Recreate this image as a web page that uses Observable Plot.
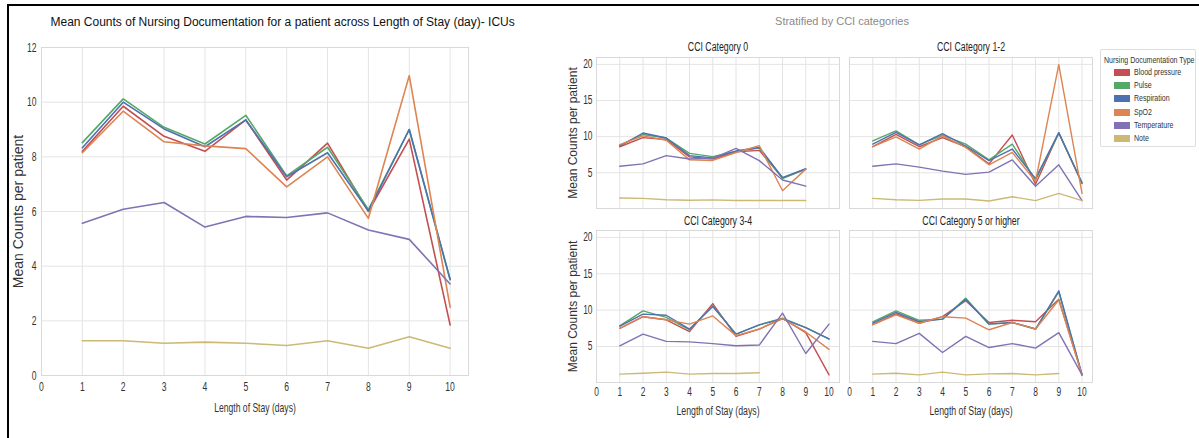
<!DOCTYPE html>
<html><head><meta charset="utf-8">
<script src="https://cdn.jsdelivr.net/npm/d3@7"></script>
<script src="https://cdn.jsdelivr.net/npm/@observablehq/plot@0.6"></script>
<style>
body{margin:0;background:#fff;}
#wrap{position:relative;width:1199px;height:438px;overflow:hidden;background:#fff;font-family:"Liberation Sans",Arial,sans-serif;}
#border{position:absolute;left:7px;top:4px;width:1300px;height:500px;border-left:2px solid #000;border-top:2px solid #000;}
#legend{position:absolute;left:1100px;top:49px;width:94px;height:96px;border:1px solid #dedede;border-radius:2px;background:#fff;color:#333;}
#legend .lt{position:absolute;left:3px;top:4px;font-size:9.5px;white-space:nowrap;transform:scaleX(0.74);transform-origin:0 50%;}
#legend .row{position:absolute;left:13px;height:10px;white-space:nowrap;}
#legend .sw{position:absolute;left:0;top:2px;width:16px;height:7px;}
#legend .lab{position:absolute;left:20px;top:-1px;font-size:9.5px;line-height:11px;transform:scaleX(0.74);transform-origin:0 50%;}
#strat{position:absolute;left:700px;top:15px;width:284px;text-align:center;font-size:11px;color:#8a8a8a;}
</style></head><body><div id="wrap"><div id="border"></div></div>
<script>
const days = [1,2,3,4,5,6,7,8,9,10];
const seriesNames = ["Blood pressure","Pulse","Respiration","SpO2","Temperature","Note"];
const seriesColors = ["#C44E52","#55A868","#4C72B0","#DD8452","#8172B3","#CCB974"];
const xTicks = [0,1,2,3,4,5,6,7,8,9,10];
const yTicksMain = [0,2,4,6,8,10,12];
const yTicksFacet = [5,10,15,20];

const mainTitle = "Mean Counts of Nursing Documentation for a patient across Length of Stay (day)- ICUs";
const stratTitle = "Stratified by CCI categories";
const xLabel = "Length of Stay (days)";
const yLabel = "Mean Counts per patient";
const legendTitle = "Nursing Documentation Type";
const facetTitles = ["CCI Category 0","CCI Category 1-2","CCI Category 3-4","CCI Category 5 or higher"];

// All ICU patients
const bpAll    = [8.2, 9.85, 8.75, 8.2, 9.35, 7.15, 8.5, 6.0, 8.65, 1.85];
const pulseAll = [8.52, 10.12, 9.08, 8.47, 9.52, 7.3, 8.35, 6.07, 9.0, 3.5];
const respAll  = [8.33, 10.0, 9.02, 8.37, 9.35, 7.27, 8.15, 6.02, 9.0, 3.52];
const spo2All  = [8.15, 9.67, 8.55, 8.4, 8.3, 6.9, 8.0, 5.75, 10.97, 2.5];
const tempAll  = [5.57, 6.08, 6.33, 5.43, 5.82, 5.78, 5.95, 5.32, 4.98, 3.35];
const noteAll  = [1.27, 1.27, 1.18, 1.22, 1.18, 1.1, 1.27, 1.0, 1.42, 1.0];

// CCI 0 (days 1-9)
const bp0    = [8.6, 9.86, 9.6, 7.2, 6.9, 7.9, 8.1, 4.3, 5.5];
const pulse0 = [8.8, 10.3, 9.8, 7.68, 7.23, 8.0, 8.4, 4.2, 5.5];
const resp0  = [8.7, 10.5, 9.8, 7.37, 7.05, 8.0, 8.5, 4.32, 5.55];
const spo20  = [8.9, 10.1, 9.5, 6.78, 6.7, 7.8, 8.75, 2.5, 5.5];
const temp0  = [5.9, 6.23, 7.37, 6.9, 7.0, 8.36, 6.68, 4.0, 3.14];
const note0  = [1.5, 1.45, 1.27, 1.2, 1.25, 1.15, 1.15, 1.15, 1.15];

// CCI 1-2
const bp12    = [8.6, 10.3, 8.6, 9.86, 8.6, 6.23, 10.23, 3.4, 10.5, 3.5];
const pulse12 = [9.4, 10.8, 8.87, 10.2, 8.96, 6.8, 8.96, 4.0, 10.5, 3.6];
const resp12  = [8.96, 10.6, 8.87, 10.4, 8.7, 6.68, 8.28, 4.18, 10.55, 3.59];
const spo212  = [8.6, 9.95, 8.28, 10.1, 8.5, 6.1, 7.82, 3.8, 19.96, 2.14];
const temp12  = [5.9, 6.23, 5.77, 5.23, 4.77, 5.09, 6.78, 3.14, 6.1, 1.14];
const note12  = [1.45, 1.27, 1.18, 1.36, 1.36, 1.09, 1.68, 1.14, 2.14, 1.14];

// CCI 3-4
const bp34    = [7.5, 9.1, 8.67, 7.06, 10.9, 6.4, 7.4, 8.85, 6.9, 1.1];
const pulse34 = [7.84, 9.9, 9.0, 7.3, 10.6, 6.7, 7.98, 8.9, 7.6, 6.0];
const resp34  = [7.8, 9.45, 9.3, 7.4, 10.5, 6.7, 7.98, 8.8, 7.6, 6.05];
const spo234  = [7.5, 9.1, 8.67, 8.07, 9.2, 6.5, 7.4, 8.85, 7.0, 4.6];
const temp34  = [5.1, 6.7, 5.7, 5.64, 5.4, 5.1, 5.2, 9.6, 4.04, 8.07];
const note34  = [1.2, 1.33, 1.47, 1.2, 1.28, 1.28, 1.4];

// CCI 5 or higher
const bp5    = [8.0, 9.5, 8.2, 9.1, 11.3, 8.3, 8.6, 8.4, 11.5, 1.1];
const pulse5 = [8.4, 9.9, 8.6, 8.76, 11.65, 8.07, 8.3, 7.4, 12.5, 1.1];
const resp5  = [8.2, 9.7, 8.4, 8.76, 11.5, 8.07, 8.3, 7.4, 12.66, 1.1];
const spo25  = [8.0, 9.36, 8.2, 9.1, 8.9, 7.3, 8.3, 7.4, 11.4, 1.1];
const temp5  = [5.7, 5.4, 6.8, 4.17, 6.4, 4.86, 5.4, 4.77, 6.9, 1.1];
const note5  = [1.2, 1.33, 1.1, 1.47, 1.1, 1.24, 1.28, 1.1, 1.28];

function toRows(lists){
  const rows = [];
  seriesNames.forEach((s,i)=>lists[i].forEach((v,j)=>rows.push({day:days[j], value:v, series:s})));
  return rows;
}
const rowsAll = toRows([bpAll,pulseAll,respAll,spo2All,tempAll,noteAll]);
const facetRows = [
  toRows([bp0,pulse0,resp0,spo20,temp0,note0]),
  toRows([bp12,pulse12,resp12,spo212,temp12,note12]),
  toRows([bp34,pulse34,resp34,spo234,temp34,note34]),
  toRows([bp5,pulse5,resp5,spo25,temp5,note5])
];

const REG = '"Liberation Sans",Arial,sans-serif';
const GRID = "#e4e4e4", FRAME = "#d9d9d9", TXT = "#333";
const wrap = document.getElementById("wrap");
function place(el, left, top){ el.style.position="absolute"; el.style.left=left+"px"; el.style.top=top+"px"; wrap.appendChild(el); }
// condense horizontal labels (the reference uses a narrow face)
function squeeze(svg, ratio){
  svg.querySelectorAll("text").forEach(t=>{
    const c = t.textContent;
    if (c === mainTitle || c === yLabel) return;
    const L = t.getComputedTextLength();
    if (L > 0) { t.setAttribute("textLength", (L*ratio).toFixed(2)); t.setAttribute("lengthAdjust","spacingAndGlyphs"); }
  });
}

// Left main panel
const main = Plot.plot({
  width: 540, height: 420, marginLeft: 41, marginRight: 72, marginTop: 47, marginBottom: 45,
  x: {domain: [0, 10.45]}, y: {domain: [0, 12]},
  color: {domain: seriesNames, range: seriesColors},
  style: {fontFamily: REG, fontSize: "13px", color: TXT, background: "transparent", overflow: "visible"},
  marks: [
    Plot.gridX(xTicks, {stroke: GRID, strokeOpacity: 1}),
    Plot.gridY(yTicksMain, {stroke: GRID, strokeOpacity: 1}),
    Plot.frame({stroke: FRAME}),
    Plot.axisX(xTicks, {tickSize: 0, tickPadding: 6, label: null, fontSize: 13}),
    Plot.axisY(yTicksMain, {tickSize: 0, tickPadding: 5, label: null, fontSize: 13}),
    Plot.line(rowsAll, {x: "day", y: "value", z: "series", stroke: "series", strokeWidth: 1.6}),
    Plot.text([mainTitle], {text: d=>d, frameAnchor: "top-left", textAnchor: "start", lineAnchor: "middle", dx: 9, dy: -25, fontSize: 12, fill: "#111"}),
    Plot.text([xLabel], {text: d=>d, frameAnchor: "bottom", textAnchor: "middle", lineAnchor: "middle", dy: 32, fontSize: 13, fill: TXT}),
    Plot.text([yLabel], {text: d=>d, frameAnchor: "left", textAnchor: "middle", lineAnchor: "middle", dx: -23, rotate: -90, fontSize: 14, fill: TXT})
  ]
});
place(main, 0, 0);
squeeze(main, 0.66);

function facet(rows, o){
  const marks = [
    Plot.gridX(xTicks, {stroke: GRID, strokeOpacity: 1}),
    Plot.gridY(yTicksFacet, {stroke: GRID, strokeOpacity: 1}),
    Plot.frame({stroke: FRAME}),
    Plot.line(rows, {x: "day", y: "value", z: "series", stroke: "series", strokeWidth: 1.4}),
    Plot.text([o.title], {text: d=>d, frameAnchor: "top", textAnchor: "middle", lineAnchor: "middle", dy: o.titleDy, fontSize: 12.5, fill: "#222"})
  ];
  if (o.xTicks) {
    marks.push(Plot.axisX(xTicks, {tickSize: 0, tickPadding: 5, label: null, fontSize: 12}));
    marks.push(Plot.text([xLabel], {text: d=>d, frameAnchor: "bottom", textAnchor: "middle", lineAnchor: "middle", dy: 28, fontSize: 12.5, fill: TXT}));
  } else {
    marks.push(Plot.axisX([], {label: null}));
  }
  if (o.yTicks) {
    marks.push(Plot.axisY(yTicksFacet, {tickSize: 0, tickPadding: 4, label: null, fontSize: 12}));
    marks.push(Plot.text([yLabel], {text: d=>d, frameAnchor: "left", textAnchor: "middle", lineAnchor: "middle", dx: -23, rotate: -90, fontSize: 12, fill: TXT}));
  } else {
    marks.push(Plot.axisY([], {label: null}));
  }
  return Plot.plot({
    width: o.width, height: o.height,
    marginLeft: o.mL, marginRight: 2, marginTop: o.mT, marginBottom: o.mB,
    x: {domain: [0, 10.45]}, y: {domain: [0.05, 20.95]},
    color: {domain: seriesNames, range: seriesColors},
    style: {fontFamily: REG, fontSize: "12px", color: TXT, background: "transparent", overflow: "visible"},
    marks
  });
}
const facetSpecs = [
  {title: facetTitles[0], width: 301, height: 180, mL: 56, mT: 27, mB: 2, titleDy: -11, xTicks: false, yTicks: true, left: 540, top: 30},
  {title: facetTitles[1], width: 255, height: 180, mL: 10, mT: 27, mB: 2, titleDy: -11, xTicks: false, yTicks: false, left: 839, top: 30},
  {title: facetTitles[2], width: 301, height: 222, mL: 56, mT: 30, mB: 40, titleDy: -9.5, xTicks: true, yTicks: true, left: 540, top: 200},
  {title: facetTitles[3], width: 255, height: 222, mL: 10, mT: 30, mB: 40, titleDy: -9.5, xTicks: true, yTicks: false, left: 839, top: 200}
];
facetSpecs.forEach((o,i)=>{
  const p = facet(facetRows[i], o);
  place(p, o.left, o.top);
  squeeze(p, 0.7);
});

// Subtitle
const st = document.createElement("div"); st.id = "strat"; st.textContent = stratTitle; wrap.appendChild(st);

// Legend
const lg = document.createElement("div"); lg.id = "legend";
const lt = document.createElement("div"); lt.className = "lt"; lt.textContent = legendTitle; lg.appendChild(lt);
seriesNames.forEach((s,i)=>{
  const r = document.createElement("div"); r.className = "row"; r.style.top = (17 + i*13.2) + "px";
  const sw = document.createElement("div"); sw.className = "sw"; sw.style.background = seriesColors[i];
  const lb = document.createElement("div"); lb.className = "lab"; lb.textContent = s;
  r.appendChild(sw); r.appendChild(lb); lg.appendChild(r);
});
wrap.appendChild(lg);
</script>
</body></html>
